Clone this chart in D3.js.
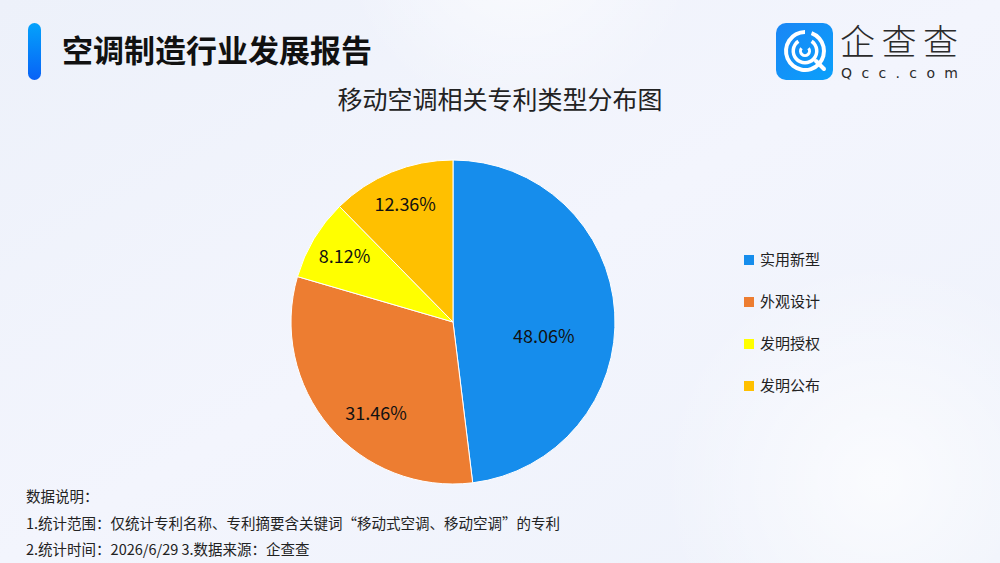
<!DOCTYPE html>
<html>
<head>
<meta charset="utf-8">
<script src="https://cdn.jsdelivr.net/npm/d3@7"></script>
<style>
  body { margin: 0; }
  svg { display: block; font-family: "Noto Sans CJK SC", "Noto Sans", sans-serif; }
</style>
</head>
<body>
<svg id="base" width="1000" height="563"></svg>
<script>
// data
const categories = ["实用新型", "外观设计", "发明授权", "发明公布"];
const shares = [48.06, 31.46, 8.12, 12.36];
const colors = ["#168dec", "#ed7d31", "#ffff00", "#ffc000"];
const notes = [
    "数据说明：",
    "1.统计范围：仅统计专利名称、专利摘要含关键词“移动式空调、移动空调”的专利",
    "2.统计时间：2026/6/29  3.数据来源：企查查"
];

const svg = d3.select("#base");
const defs = svg.append("defs");

// background
const bg = defs.append("linearGradient").attr("id", "bg")
    .attr("x1", 0).attr("y1", 0).attr("x2", 1).attr("y2", 1);
bg.append("stop").attr("offset", 0).attr("stop-color", "#edf1fa");
bg.append("stop").attr("offset", 0.5).attr("stop-color", "#f3f5fd");
bg.append("stop").attr("offset", 1).attr("stop-color", "#eef2fb");
svg.append("rect").attr("width", 1000).attr("height", 563).attr("fill", "url(#bg)");

const glow = defs.append("radialGradient").attr("id", "glow");
glow.append("stop").attr("offset", 0).attr("stop-color", "#ffffff").attr("stop-opacity", 0.7);
glow.append("stop").attr("offset", 1).attr("stop-color", "#ffffff").attr("stop-opacity", 0);
svg.append("circle").attr("cx", 520).attr("cy", -60).attr("r", 180).attr("fill", "url(#glow)");
svg.append("circle").attr("cx", 880).attr("cy", 480).attr("r", 220).attr("fill", "url(#glow)");

// header
const bar = defs.append("linearGradient").attr("id", "bar")
    .attr("x1", 0).attr("y1", 0).attr("x2", 0).attr("y2", 1);
bar.append("stop").attr("offset", 0).attr("stop-color", "#04a2fb");
bar.append("stop").attr("offset", 1).attr("stop-color", "#0862f6");
svg.append("rect").attr("x", 28).attr("y", 23).attr("width", 13).attr("height", 57)
    .attr("rx", 6.5).attr("fill", "url(#bar)");
svg.append("text").attr("x", 62).attr("y", 62)
    .attr("font-size", 31).attr("font-weight", "bold").attr("fill", "#111")
    .text("空调制造行业发展报告");

// logo
const logo = svg.append("g").attr("transform", "translate(776,23)");
const lg = defs.append("linearGradient").attr("id", "lg")
    .attr("x1", 0).attr("y1", 0).attr("x2", 1).attr("y2", 1);
lg.append("stop").attr("offset", 0).attr("stop-color", "#1a86f5");
lg.append("stop").attr("offset", 1).attr("stop-color", "#0aa0fb");
logo.append("rect").attr("width", 57).attr("height", 57).attr("rx", 10).attr("fill", "url(#lg)");
const ring = d3.arc();
logo.append("path").attr("transform", "translate(29,28)")
    .attr("d", ring({innerRadius: 17, outerRadius: 21, startAngle: 0.35, endAngle: 2 * Math.PI}))
    .attr("fill", "#fff");
logo.append("path").attr("transform", "translate(29,28)")
    .attr("d", ring({innerRadius: 10, outerRadius: 13.5, startAngle: 0.6, endAngle: 2 * Math.PI - 0.6}))
    .attr("fill", "#fff");
logo.append("path").attr("transform", "translate(29,28)")
    .attr("d", ring({innerRadius: 3, outerRadius: 6, startAngle: 0.9, endAngle: 2 * Math.PI - 0.9}))
    .attr("fill", "#fff");
logo.append("line").attr("x1", 40).attr("y1", 38).attr("x2", 48).attr("y2", 46)
    .attr("stroke", "#fff").attr("stroke-width", 4).attr("stroke-linecap", "round");
svg.append("text").attr("x", 840).attr("y", 55)
    .attr("font-size", 35).attr("fill", "#2b2b2b").attr("font-weight", 300)
    .attr("textLength", 118).text("企查查");
svg.append("text").attr("x", 841).attr("y", 78)
    .attr("font-size", 14).attr("fill", "#2b2b2b").attr("font-family", "DejaVu Sans")
    .attr("textLength", 117).text("Qcc.com");

// chart title
svg.append("text").attr("x", 500).attr("y", 109).attr("text-anchor", "middle")
    .attr("font-size", 25).attr("fill", "#222").text("移动空调相关专利类型分布图");

// pie
const cx = 453, cy = 322, radius = 162;
const pie = d3.pie().sort(null).value((d) => d);
const arcs = pie(shares);
const arc = d3.arc().innerRadius(0).outerRadius(radius);
const labelArc = d3.arc().innerRadius(radius * 0.78).outerRadius(radius * 0.78);

const g = svg.append("g").attr("transform", `translate(${cx},${cy})`);
g.selectAll("path.slice")
    .data(arcs)
    .enter()
    .append("path")
    .attr("class", "slice")
    .attr("d", arc)
    .attr("fill", (d, i) => colors[i])
    .attr("stroke", "#ffffff")
    .attr("stroke-width", 1);

g.selectAll("text.lbl")
    .data(arcs)
    .enter()
    .append("text")
    .attr("class", "lbl")
    .attr("transform", (d) => {
        const c = labelArc.centroid(d);
        // the big slices keep their labels closer to the centre
        if (d.index === 0) return `translate(${c[0] * 0.72},${c[1] + 22})`;
        if (d.index === 1) return `translate(${c[0] * 0.8},${c[1] + 10})`;
        return `translate(${c[0]},${c[1]})`;
    })
    .attr("text-anchor", "middle")
    .attr("dy", "0.35em")
    .attr("font-size", 18)
    .attr("fill", "#111")
    .text((d) => d.data.toFixed(2) + "%");

// legend
const legend = svg.append("g").attr("transform", "translate(744,260)");
const item = legend.selectAll("g")
    .data(categories)
    .enter()
    .append("g")
    .attr("transform", (d, i) => `translate(0,${i * 42})`);
item.append("rect").attr("x", 0).attr("y", -5).attr("width", 10).attr("height", 10)
    .attr("fill", (d, i) => colors[i]);
item.append("text").attr("x", 16).attr("dy", "0.35em")
    .attr("font-size", 15).attr("fill", "#222").text((d) => d);

// footer notes
svg.selectAll("text.note")
    .data(notes)
    .enter()
    .append("text")
    .attr("class", "note")
    .attr("x", 26)
    .attr("y", (d, i) => 502 + i * 26.5)
    .attr("font-size", 14.5)
    .attr("fill", "#222")
    .text((d) => d);
</script>
</body>
</html>
